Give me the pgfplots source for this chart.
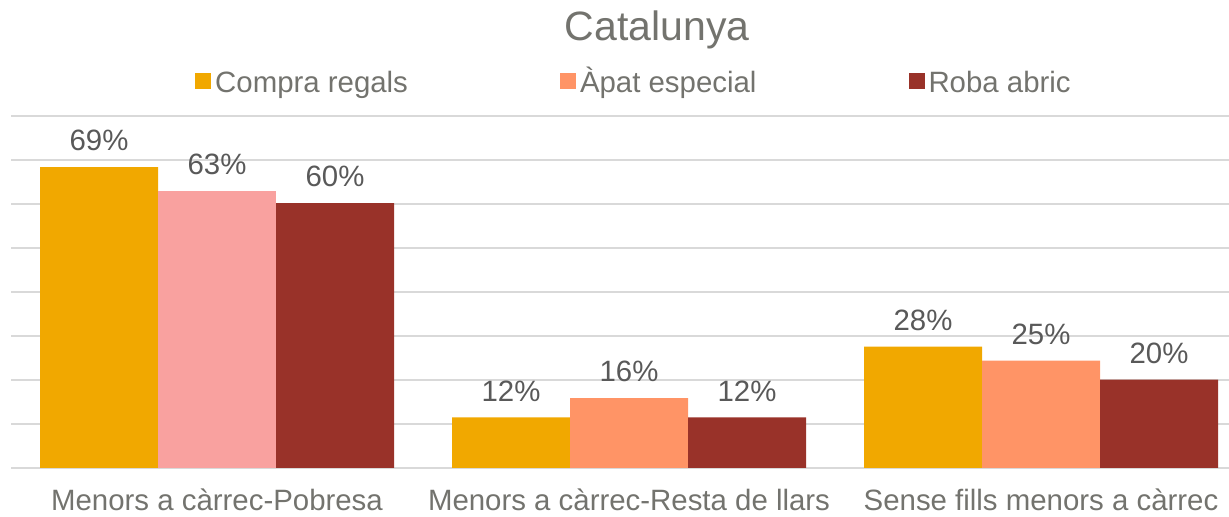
\documentclass[border=0pt]{standalone}
\usepackage{pgfplots}
\pgfplotsset{compat=1.18}
\usepackage{fontspec}
\setmainfont{Liberation Sans}
\definecolor{cOrange}{RGB}{241,168,0}
\definecolor{cSalmon}{RGB}{255,148,102}
\definecolor{cPink}{RGB}{249,161,159}
\definecolor{cDark}{RGB}{153,50,41}
\definecolor{cText}{RGB}{89,89,89}
\definecolor{cLight}{RGB}{115,115,110}
\definecolor{cGrid}{RGB}{217,217,217}
\begin{document}
\begin{tikzpicture}
\useasboundingbox (-5.5pt,-24.5pt) rectangle (609pt,234pt);
\begin{axis}[
  scale only axis,
  width=618pt, height=176pt,
  xmin=-0.5, xmax=2.5,
  ymin=0, ymax=80,
  ybar,
  bar width=0.2864,
  axis line style={draw=none},
  xtick={0,1,2},
  xticklabels={Menors a càrrec-Pobresa, Menors a càrrec-Resta de llars, Sense fills menors a càrrec},
  xticklabel style={font=\fontsize{14.7}{17}\selectfont, text=cLight, yshift=-7pt},
  ytick={0,10,...,80},
  yticklabels={},
  major tick length=0pt,
  ymajorgrids,
  grid style={draw=cGrid, line width=1pt},
  title={Catalunya},
  title style={at={(0.5227,1.21)}, anchor=center, font=\fontsize{20.5}{24}\selectfont, text=cLight},
  legend columns=3,
  legend style={at={(0.5048,1.0995)}, anchor=center, draw=none, fill=none,
    font=\fontsize{14.7}{17}\selectfont, text=cLight,
    /tikz/every even column/.append style={column sep=74pt},
    inner sep=0pt},
  legend image code/.code={\fill[#1] (0pt,-4pt) rectangle (8pt,4pt);},
  point meta=explicit symbolic,
  nodes near coords,
  every node near coord/.append style={font=\fontsize{14.7}{17}\selectfont, text=cText, yshift=4.5pt},
  clip=false,
]
\addplot[fill=cOrange, draw=none, bar shift=-0.2864] coordinates {(0,68.4) [69\%] (1,11.5) [12\%] (2,27.6) [28\%]};
\addlegendentry{\vphantom{Àg}Compra regals}
\addplot[fill=cPink, draw=none, bar shift=0, forget plot] coordinates {(0,63.0) [63\%]};
\addplot[fill=cSalmon, draw=none, bar shift=0] coordinates {(1,15.9) [16\%] (2,24.4) [25\%]};
\addlegendentry{\vphantom{Àg}Àpat especial}
\addplot[fill=cDark, draw=none, bar shift=0.2864] coordinates {(0,60.2) [60\%] (1,11.5) [12\%] (2,20.1) [20\%]};
\addlegendentry{\vphantom{Àg}Roba abric}
\end{axis}
\end{tikzpicture}
\end{document}
